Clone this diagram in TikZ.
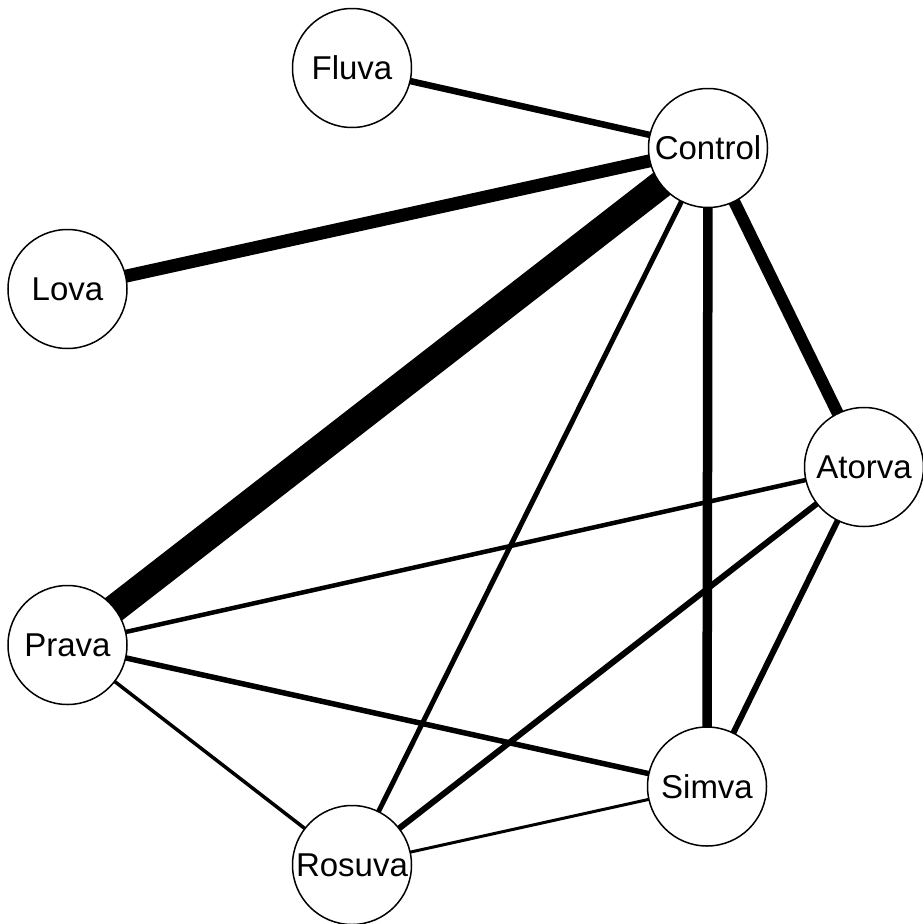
\documentclass[tikz,border=0pt]{standalone}
\usepackage{fontspec}
\setmainfont{Liberation Sans}
\usetikzlibrary{backgrounds}
\begin{document}
\begin{tikzpicture}[x=1pt,y=-1pt,
  drug/.style={circle,draw=black,line width=1.5pt,fill=white,minimum size=119pt,inner sep=0pt,font=\fontsize{33}{33}\selectfont},
  edge/.style={draw=black,line cap=butt}]
\useasboundingbox (0,0) rectangle (923,924);
\node[drug] (fluva)   at (352,68)  {Fluva};
\node[drug] (control) at (708,148) {Control};
\node[drug] (lova)    at (67.5,289) {Lova};
\node[drug] (atorva)  at (864,467) {Atorva};
\node[drug] (prava)   at (67.5,645) {Prava};
\node[drug] (simva)   at (707,786.5) {Simva};
\node[drug] (rosuva)  at (352,865) {Rosuva};
\begin{scope}[on background layer]
\draw[edge,line width=6.5pt] (fluva.center) -- (control.center);
\draw[edge,line width=13pt] (lova.center) -- (control.center);
\draw[edge,line width=28pt] (prava.center) -- (control.center);
\draw[edge,line width=12pt] (control.center) -- (atorva.center);
\draw[edge,line width=9.5pt] (control.center) -- (simva.center);
\draw[edge,line width=5pt] (control.center) -- (rosuva.center);
\draw[edge,line width=4.5pt] (atorva.center) -- (prava.center);
\draw[edge,line width=6pt] (atorva.center) -- (rosuva.center);
\draw[edge,line width=6pt] (atorva.center) -- (simva.center);
\draw[edge,line width=5.5pt] (prava.center) -- (simva.center);
\draw[edge,line width=3.5pt] (prava.center) -- (rosuva.center);
\draw[edge,line width=3pt] (rosuva.center) -- (simva.center);
\end{scope}
\end{tikzpicture}
\end{document}
